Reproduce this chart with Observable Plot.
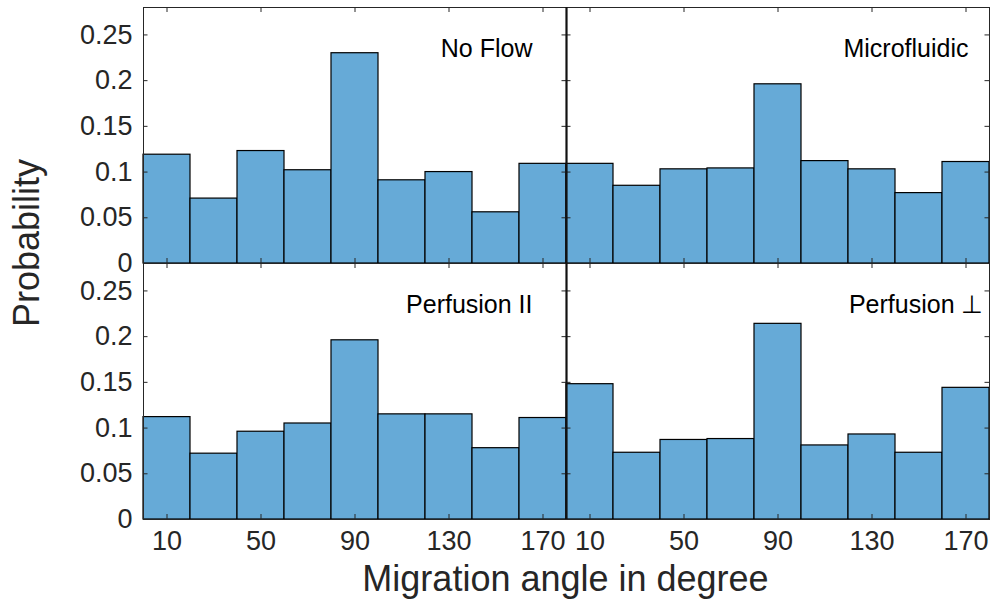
<!DOCTYPE html>
<html>
<head>
<meta charset="utf-8">
<script src="https://cdn.jsdelivr.net/npm/d3@7"></script>
<script src="https://cdn.jsdelivr.net/npm/@observablehq/plot@0.6"></script>
<style>
  html, body { margin: 0; padding: 0; background: #fff; }
  #chart svg { display: block; }
</style>
</head>
<body>
<div id="chart"></div>
<script>
// Bin edges (degrees) and tick labels
const binEdges = [0, 20, 40, 60, 80, 100, 120, 140, 160, 180];
const xTicks = [10, 50, 90, 130, 170];
const yTicks = [0, 0.05, 0.1, 0.15, 0.2, 0.25];

// Panel names
const panelNames = ["No Flow", "Microfluidic", "Perfusion II", "Perfusion \u22A5"];

// Probabilities per 20° bin
const noFlow       = [0.119, 0.071, 0.123, 0.102, 0.230, 0.091, 0.100, 0.056, 0.109];
const microfluidic = [0.109, 0.085, 0.103, 0.104, 0.196, 0.112, 0.103, 0.077, 0.111];
const perfusionPar = [0.112, 0.072, 0.096, 0.105, 0.196, 0.115, 0.115, 0.078, 0.111];
const perfusionPerp= [0.148, 0.073, 0.087, 0.088, 0.214, 0.081, 0.093, 0.073, 0.144];

const seriesList = [noFlow, microfluidic, perfusionPar, perfusionPerp];
const cols = ["left", "right"];
const rows = ["top", "bottom"];

const data = [];
seriesList.forEach((vals, i) => {
  vals.forEach((p, j) => {
    data.push({
      panel: panelNames[i],
      col: cols[i % 2],
      row: rows[Math.floor(i / 2)],
      x1: binEdges[j],
      x2: binEdges[j + 1],
      p
    });
  });
});
const labels = panelNames.map((name, i) => ({name, col: cols[i % 2], row: rows[Math.floor(i / 2)]}));

const W = 992, H = 603;
const mL = 142, mR = 3, mT = 7, mB = 84;
const facetW = (W - mL - mR) / 2;
const facetH = (H - mT - mB) / 2;
const tickLen = 5;
const axisColor = "#262626";

const labelDx = {"No Flow": -34, "Microfluidic": -21, "Perfusion II": -34, "Perfusion \u22A5": -6};

const chart = Plot.plot({
  width: W,
  height: H,
  marginLeft: mL,
  marginRight: mR,
  marginTop: mT,
  marginBottom: mB,
  style: {fontFamily: "'Liberation Sans', Arial, Helvetica, sans-serif", color: axisColor, background: "#fff"},
  x: {domain: [binEdges[0], binEdges[binEdges.length - 1]]},
  y: {domain: [0, 0.28]},
  fx: {domain: cols, padding: 0, axis: null},
  fy: {domain: rows, padding: 0, axis: null},
  marks: [
    Plot.rectY(data, {x1: "x1", x2: "x2", y: "p", fx: "col", fy: "row",
      fill: "#66AAD7", stroke: "#000", strokeWidth: 1.2}),
    Plot.frame({stroke: axisColor, strokeWidth: 1}),
    // inward y ticks, left and right sides
    Plot.tickY(yTicks, {y: d => d, insetRight: facetW - tickLen, stroke: axisColor}),
    Plot.tickY(yTicks, {y: d => d, insetLeft: facetW - tickLen, stroke: axisColor}),
    // inward x ticks, bottom and top sides
    Plot.tickX(xTicks, {x: d => d, insetTop: facetH - tickLen, stroke: axisColor}),
    Plot.tickX(xTicks, {x: d => d, insetBottom: facetH - tickLen, stroke: axisColor}),
    // heavier divider between the two columns
    Plot.ruleX([binEdges[binEdges.length - 1]], {fx: () => "left", stroke: "#111", strokeWidth: 2.2}),
    Plot.axisX({ticks: xTicks, tickSize: 0, tickPadding: 11, fontSize: 27, label: null, tickFormat: d => String(d)}),
    Plot.axisY({ticks: yTicks, tickSize: 0, tickPadding: 11, fontSize: 27, label: null, tickFormat: d => String(d)}),
    ...labels.map(l => Plot.text([l], {
      text: "name", fx: "col", fy: "row",
      frameAnchor: "top-right", textAnchor: "end", lineAnchor: "middle",
      dx: labelDx[l.name], dy: 41, fontSize: 25, fill: "#000"
    }))
  ]
});

document.getElementById("chart").appendChild(chart);

// Axis titles
const svg = d3.select(chart);
svg.append("text")
  .attr("x", (mL + (W - mR)) / 2)
  .attr("y", 591)
  .attr("text-anchor", "middle")
  .attr("font-size", 36)
  .attr("fill", axisColor)
  .text("Migration angle in degree");
svg.append("text")
  .attr("transform", "translate(39,243) rotate(-90)")
  .attr("text-anchor", "middle")
  .attr("font-size", 36)
  .attr("fill", axisColor)
  .text("Probability");
</script>
</body>
</html>
